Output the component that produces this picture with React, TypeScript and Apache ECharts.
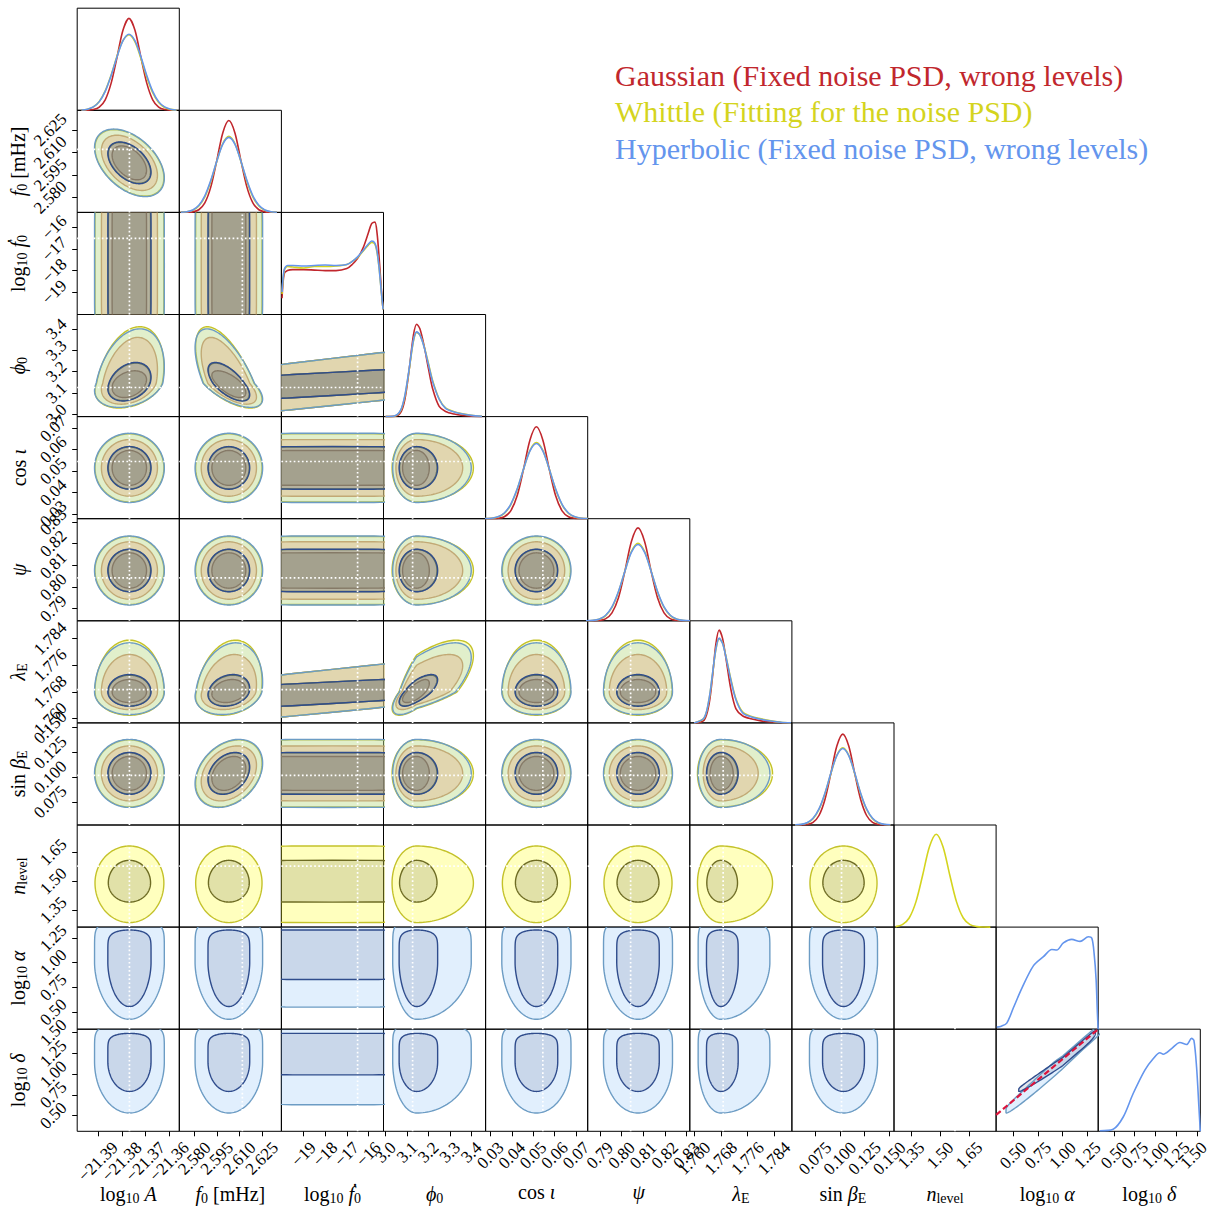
import React, { useEffect, useRef } from "react";
import * as echarts from "echarts";

const SERIF = '"Liberation Serif", "DejaVu Serif", serif';
const TICK_FS = 17;

// ---------- parameter axes ----------
const paramRanges: [number, number][] = [
  [-21.3988, -21.3558],
  [2.57, 2.638],
  [-20.03, -15.3],
  [2.99, 3.467],
  [0.02776, 0.07547],
  [0.78442, 0.83147],
  [1.7587, 1.7893],
  [0.0517, 0.1546],
  [1.2616, 1.7897],
  [0.3269, 1.3603],
  [0.3096, 1.54],
];
const paramTicks: number[][] = [
  [-21.39, -21.38, -21.37, -21.36],
  [2.58, 2.595, 2.61, 2.625],
  [-19, -18, -17, -16],
  [3.0, 3.1, 3.2, 3.3, 3.4],
  [0.03, 0.04, 0.05, 0.06, 0.07],
  [0.79, 0.8, 0.81, 0.82, 0.83],
  [1.76, 1.768, 1.776, 1.784],
  [0.075, 0.1, 0.125, 0.15],
  [1.35, 1.5, 1.65],
  [0.5, 0.75, 1.0, 1.25],
  [0.5, 0.75, 1.0, 1.25, 1.5],
];
const tickDecimals = [2, 3, 0, 1, 2, 2, 3, 3, 2, 2, 2];
const axisNames = [
  "log{sub|10} {it|A}",
  "{it|f}{sub|0} [mHz]",
  "log{sub|10} {it|ḟ}{sub|0}",
  "{it|ϕ}{sub|0}",
  "cos {it|ι}",
  "{it|ψ}",
  "{it|λ}{sub|E}",
  "sin {it|β}{sub|E}",
  "{it|n}{sub|level}",
  "log{sub|10} {it|α}",
  "log{sub|10} {it|δ}",
];
const truths: (number | null)[] = [-21.3768, 2.612, -16.5, 3.126, 0.0545, 0.8042, 1.7687, 0.1017, 1.577, null, null];

// ---------- 1D marginals (height as a fraction of the panel) ----------
const logAGrid = [-21.397, -21.3945, -21.392, -21.3895, -21.387, -21.3845, -21.382, -21.3795, -21.377, -21.3745, -21.372, -21.3695, -21.367, -21.3645, -21.362, -21.3595, -21.357];
const logAGauss = [0, 0.001, 0.007, 0.031, 0.103, 0.266, 0.522, 0.787, 0.9, 0.787, 0.522, 0.266, 0.103, 0.031, 0.007, 0.001, 0];
const logAWhittle = [0.003, 0.011, 0.034, 0.087, 0.19, 0.346, 0.532, 0.684, 0.74, 0.672, 0.51, 0.325, 0.172, 0.076, 0.028, 0.009, 0.002];
const logAHyper = [0.003, 0.011, 0.033, 0.085, 0.186, 0.341, 0.527, 0.683, 0.745, 0.683, 0.527, 0.341, 0.186, 0.085, 0.033, 0.011, 0.003];

const f0Grid = [2.571, 2.575, 2.579, 2.583, 2.587, 2.591, 2.595, 2.599, 2.603, 2.607, 2.611, 2.615, 2.619, 2.623, 2.627, 2.631, 2.635];
const f0Gauss = [0, 0.001, 0.005, 0.026, 0.093, 0.25, 0.509, 0.781, 0.9, 0.781, 0.509, 0.25, 0.093, 0.026, 0.005, 0.001, 0];
const f0Whittle = [0.001, 0.006, 0.021, 0.063, 0.153, 0.306, 0.502, 0.675, 0.745, 0.675, 0.502, 0.306, 0.153, 0.063, 0.021, 0.006, 0.001];
const f0Hyper = [0.002, 0.007, 0.024, 0.069, 0.162, 0.314, 0.503, 0.669, 0.735, 0.669, 0.503, 0.314, 0.162, 0.069, 0.024, 0.007, 0.002];

const fdotGrid = [-20.0, -19.9, -19.75, -19.5, -19.0, -18.5, -18.0, -17.5, -17.0, -16.75, -16.5, -16.25, -16.0, -15.85, -15.7, -15.6, -15.5, -15.4, -15.32];
const fdotGauss = [0.16, 0.4, 0.43, 0.44, 0.44, 0.435, 0.43, 0.43, 0.45, 0.49, 0.55, 0.65, 0.8, 0.89, 0.905, 0.8, 0.55, 0.25, 0.05];
const fdotWhittle = [0.2, 0.43, 0.47, 0.465, 0.455, 0.47, 0.47, 0.475, 0.49, 0.52, 0.56, 0.62, 0.68, 0.705, 0.69, 0.61, 0.45, 0.22, 0.05];
const fdotHyper = [0.22, 0.44, 0.48, 0.48, 0.475, 0.48, 0.485, 0.48, 0.49, 0.52, 0.565, 0.625, 0.69, 0.72, 0.7, 0.62, 0.45, 0.22, 0.05];

const phiGrid = [3.0, 3.04, 3.07, 3.09, 3.11, 3.13, 3.145, 3.16, 3.18, 3.2, 3.22, 3.25, 3.28, 3.32, 3.36, 3.4, 3.45];
const phiGauss = [0, 0.002, 0.04, 0.17, 0.46, 0.8, 0.905, 0.86, 0.69, 0.47, 0.27, 0.1, 0.05, 0.025, 0.012, 0.005, 0];
const phiWhittle = [0, 0.004, 0.058, 0.2, 0.46, 0.74, 0.825, 0.8, 0.685, 0.52, 0.35, 0.175, 0.085, 0.048, 0.027, 0.013, 0.004];
const phiHyper = [0, 0.005, 0.063, 0.21, 0.47, 0.75, 0.83, 0.8, 0.68, 0.51, 0.34, 0.17, 0.08, 0.045, 0.025, 0.012, 0.004];

const cosGrid = [0.0275, 0.0305, 0.0335, 0.0365, 0.0395, 0.0425, 0.0455, 0.0485, 0.0515, 0.0545, 0.0575, 0.0605, 0.0635, 0.0665, 0.0695, 0.0725, 0.0755];
const cosGauss = [0, 0.0005, 0.0035, 0.019, 0.077, 0.224, 0.485, 0.771, 0.9, 0.771, 0.485, 0.224, 0.077, 0.019, 0.0035, 0.0005, 0];
const cosWhittle = [0.001, 0.004, 0.016, 0.052, 0.136, 0.285, 0.486, 0.67, 0.745, 0.67, 0.486, 0.285, 0.136, 0.052, 0.016, 0.004, 0.001];
const cosHyper = [0.001, 0.0047, 0.018, 0.056, 0.141, 0.29, 0.487, 0.664, 0.736, 0.664, 0.487, 0.29, 0.141, 0.056, 0.018, 0.0047, 0.001];

const psiGrid = [0.7836, 0.7866, 0.7896, 0.7926, 0.7956, 0.7986, 0.8016, 0.8046, 0.8076, 0.8106, 0.8136, 0.8166, 0.8196, 0.8226, 0.8256, 0.8286, 0.8316];
const psiGauss = [0, 0.0005, 0.0035, 0.019, 0.078, 0.226, 0.49, 0.78, 0.91, 0.78, 0.49, 0.226, 0.078, 0.019, 0.0035, 0.0005, 0];
const psiWhittle = [0.0007, 0.0035, 0.015, 0.049, 0.131, 0.283, 0.489, 0.681, 0.76, 0.681, 0.489, 0.283, 0.131, 0.049, 0.015, 0.0035, 0.0007];
const psiHyper = [0.001, 0.004, 0.016, 0.052, 0.136, 0.286, 0.488, 0.672, 0.748, 0.672, 0.488, 0.286, 0.136, 0.052, 0.016, 0.004, 0.001];

const lamGrid = [1.76, 1.763, 1.7645, 1.7655, 1.7665, 1.7675, 1.7685, 1.7695, 1.771, 1.7725, 1.7745, 1.777, 1.78, 1.783, 1.786, 1.789];
const lamGauss = [0, 0.027, 0.19, 0.45, 0.77, 0.91, 0.83, 0.64, 0.33, 0.14, 0.07, 0.04, 0.02, 0.01, 0.004, 0];
const lamWhittle = [0, 0.048, 0.235, 0.475, 0.715, 0.825, 0.785, 0.655, 0.43, 0.24, 0.11, 0.065, 0.04, 0.02, 0.007, 0];
const lamHyper = [0, 0.05, 0.24, 0.48, 0.72, 0.83, 0.78, 0.65, 0.42, 0.23, 0.1, 0.06, 0.035, 0.018, 0.006, 0];

const sinbGrid = [0.055, 0.061, 0.067, 0.073, 0.079, 0.085, 0.091, 0.097, 0.103, 0.109, 0.115, 0.121, 0.127, 0.133, 0.139, 0.145, 0.151];
const sinbGauss = [0, 0.0009, 0.0056, 0.026, 0.093, 0.25, 0.506, 0.773, 0.89, 0.773, 0.506, 0.25, 0.093, 0.026, 0.0056, 0.0009, 0];
const sinbWhittle = [0.0013, 0.0056, 0.02, 0.0615, 0.152, 0.307, 0.505, 0.683, 0.755, 0.683, 0.505, 0.307, 0.152, 0.0615, 0.02, 0.0056, 0.0013];
const sinbHyper = [0.0015, 0.0064, 0.0225, 0.066, 0.158, 0.312, 0.509, 0.68, 0.75, 0.68, 0.509, 0.312, 0.158, 0.066, 0.0225, 0.0064, 0.0015];

const nlevGrid = [1.27, 1.305, 1.34, 1.375, 1.41, 1.445, 1.48, 1.515, 1.55, 1.585, 1.62, 1.655, 1.69, 1.725, 1.76];
const nlevWhittle = [0.005, 0.024, 0.089, 0.247, 0.51, 0.787, 0.91, 0.787, 0.51, 0.247, 0.089, 0.024, 0.005, 0.0007, 0];

const alphaGrid = [0.334, 0.38, 0.435, 0.502, 0.587, 0.704, 0.806, 0.891, 0.941, 1.008, 1.093, 1.177, 1.261, 1.296, 1.319, 1.339, 1.352, 1.36];
const alphaHyper = [0.02, 0.03, 0.06, 0.21, 0.4, 0.62, 0.71, 0.78, 0.775, 0.845, 0.88, 0.86, 0.905, 0.89, 0.74, 0.49, 0.16, 0];

const deltaGrid = [0.33, 0.49, 0.611, 0.731, 0.872, 0.972, 1.053, 1.093, 1.194, 1.294, 1.375, 1.435, 1.463, 1.495, 1.523, 1.54];
const deltaHyper = [0.005, 0.02, 0.14, 0.37, 0.6, 0.71, 0.77, 0.755, 0.81, 0.87, 0.85, 0.91, 0.89, 0.63, 0.24, 0];

// ---------- 2D credible regions: [low, high] extent of the 68% and 95% contours ----------
const modes = [-21.3768, 2.603, -17.66, 3.145, 0.0515, 0.8076, 1.768, 0.1037, 1.49, 1.0, 1.15];
const shapeLo = [2, 2, 10, 2, 2, 2, 2, 2, 2, 1.8, 2];
const shapeHi = [2, 2, 10, 2, 2, 2, 2, 2, 2, 8, 8];

type Ext = [number, number] | null;
const gaussInner: Ext[] = [[-21.3841, -21.3696], [2.5917, 2.6143], [-21.2, -14.1], [3.079, 3.204], [0.04335, 0.05965], [0.79945, 0.81575], [1.7648, 1.7717], [0.0866, 0.1208], null, null, null];
const gaussOuter: Ext[] = [[-21.3886, -21.365], [2.5846, 2.6214], [-21.3, -14.0], [3.048, 3.36], [0.03827, 0.06473], [0.79437, 0.82083], [1.7627, 1.7792], [0.076, 0.1314], null, null, null];
const whittleInner: Ext[] = [[-21.3857, -21.3679], [2.5894, 2.6166], [-21.2, -14.1], [3.065, 3.24], [0.0417, 0.0613], [0.79794, 0.81726], [1.7638, 1.773], [0.0829, 0.1245], [1.391, 1.607], null, null];
const whittleOuter: Ext[] = [[-21.3913, -21.3623], [2.5809, 2.6251], [-21.3, -14.0], [3.03, 3.41], [0.0356, 0.0674], [0.79192, 0.82328], [1.761, 1.7835], [0.0699, 0.1375], [1.285, 1.681], null, null];
const hyperInner: Ext[] = [[-21.3859, -21.3677], [2.5891, 2.6169], [-21.2, -14.1], [3.063, 3.243], [0.04153, 0.06147], [0.7978, 0.8174], [1.7637, 1.7732], [0.0826, 0.1248], null, [0.556, 1.331], [0.79, 1.49]];
const hyperOuter: Ext[] = [[-21.3915, -21.3621], [2.5805, 2.6255], [-21.3, -14.0], [3.033, 3.4], [0.03533, 0.06767], [0.7917, 0.8235], [1.7612, 1.7827], [0.0694, 0.138], null, [0.427, 1.45], [0.53, 1.62]];

// row-parameter extents against log10 fdot: [row, innerLo, innerHi, outerLo, outerHi]
const fdotRowExtents: [number, number, number, number, number][] = [
  [3, 3.085, 3.2, 3.035, 3.27],
  [6, 1.7643, 1.7712, 1.7615, 1.7752],
  [9, 0.83, 1.331, 0.55, 1.45],
  [10, 0.99, 1.49, 0.63, 1.62],
];

// correlation of (row parameter, column parameter)
const pairRho: [number, number, number][] = [
  [1, 0, -0.45],
  [3, 0, 0.3],
  [3, 1, -0.65],
  [3, 2, 0.35],
  [6, 1, 0.2],
  [6, 2, 0.35],
  [6, 3, 0.7],
  [7, 1, 0.3],
  [10, 9, 0.99],
];

// log10 delta against log10 alpha reference relation
const refLineAlpha = [0.3269, 1.3603];
const refLineDelta = [0.507, 1.54];

// ---------- styles ----------
const GAUSS = "#c1272d";
const WHITTLE = "#d4d41e";
const HYPER = "#6495ed";

const runs = [
  {
    name: "Gaussian (Fixed noise PSD, wrong levels)",
    color: GAUSS,
    inner: gaussInner,
    outer: gaussOuter,
    outerFill: "rgba(255,125,105,0.35)",
    innerFill: "rgba(110,60,60,0.3)",
    outerEdge: "#c47d5e",
    innerEdge: "#7d3a36",
  },
  {
    name: "Whittle (Fitting for the noise PSD)",
    color: WHITTLE,
    inner: whittleInner,
    outer: whittleOuter,
    outerFill: "rgba(255,255,40,0.3)",
    innerFill: "rgba(90,90,70,0.18)",
    outerEdge: "#c4c22a",
    innerEdge: "#6e6c24",
  },
  {
    name: "Hyperbolic (Fixed noise PSD, wrong levels)",
    color: HYPER,
    inner: hyperInner,
    outer: hyperOuter,
    outerFill: "rgba(130,190,245,0.24)",
    innerFill: "rgba(70,80,130,0.15)",
    outerEdge: "#6c9cc4",
    innerEdge: "#2f4c8c",
  },
];

const diagCurves = [
  { x: logAGrid, y: [logAGauss, logAWhittle, logAHyper] },
  { x: f0Grid, y: [f0Gauss, f0Whittle, f0Hyper] },
  { x: fdotGrid, y: [fdotGauss, fdotWhittle, fdotHyper] },
  { x: phiGrid, y: [phiGauss, phiWhittle, phiHyper] },
  { x: cosGrid, y: [cosGauss, cosWhittle, cosHyper] },
  { x: psiGrid, y: [psiGauss, psiWhittle, psiHyper] },
  { x: lamGrid, y: [lamGauss, lamWhittle, lamHyper] },
  { x: sinbGrid, y: [sinbGauss, sinbWhittle, sinbHyper] },
  { x: nlevGrid, y: [null, nlevWhittle, null] },
  { x: alphaGrid, y: [null, null, alphaHyper] },
  { x: deltaGrid, y: [null, null, deltaHyper] },
];

// ---------- layout ----------
const NP = 11;
const X0 = 77.2;
const Y0 = 8.2;
const PANEL = 102.1;
const TICK_PAD = 8.5;
const PAGE_W = 1212;

function gridIndexOf(r: number, c: number) {
  return (r * (r + 1)) / 2 + c;
}

function rhoFor(r: number, c: number) {
  const hit = pairRho.find((p) => p[0] === r && p[1] === c);
  return hit ? hit[2] : 0;
}

// closed outline of a credible region in data units
function regionOutline(px: number, py: number, ex: [number, number], ey: [number, number], rho: number) {
  const pts: number[][] = [];
  const k = Math.sqrt(1 - rho * rho);
  const cx = modes[px];
  const cy = modes[py];
  const n = 160;
  for (let i = 0; i < n; i++) {
    const t = (i / n) * 2 * Math.PI;
    const c = Math.cos(t);
    const s = Math.sin(t);
    const exX = c < 0 ? shapeLo[px] : shapeHi[px];
    const exY = s < 0 ? shapeLo[py] : shapeHi[py];
    const ux = Math.sign(c) * Math.pow(Math.abs(c), 2 / exX);
    const uy = Math.sign(s) * Math.pow(Math.abs(s), 2 / exY);
    const u = ux;
    const v = rho * ux + k * uy;
    const x = u < 0 ? cx + u * (cx - ex[0]) : cx + u * (ex[1] - cx);
    const y = v < 0 ? cy + v * (cy - ey[0]) : cy + v * (ey[1] - cy);
    pts.push([x, y]);
  }
  return pts;
}

function tickText(p: number, v: number) {
  return Number(v).toFixed(tickDecimals[p]).replace("-", "\u2212");
}

const nameStyle = {
  fontSize: 20,
  fontFamily: SERIF,
  color: "#000",
  rich: {
    it: { fontSize: 20, fontFamily: SERIF, fontStyle: "italic", color: "#000" },
    sub: { fontSize: 14, fontFamily: SERIF, color: "#000", padding: [9, 0, 0, 0] },
  },
};

function paramAxis(p: number, gi: number, labeled: boolean, isX: boolean) {
  return {
    type: "value",
    gridIndex: gi,
    min: paramRanges[p][0],
    max: paramRanges[p][1],
    axisLine: { show: false },
    splitLine: { show: false },
    axisTick: {
      show: labeled,
      customValues: paramTicks[p],
      length: 5,
      lineStyle: { color: "#000", width: 1 },
    },
    axisLabel: { show: false },
    name: labeled ? axisNames[p] : "",
    nameLocation: "middle",
    nameGap: isX ? 51 : 48,
    nameMoveOverlap: false,
    nameTextStyle: nameStyle,
  };
}

function legendGraphics() {
  const legendTops = [60, 96, 133];
  return runs.map((run, i) => ({
    type: "text",
    left: 615,
    top: legendTops[i],
    silent: true,
    style: {
      text: run.name,
      fontSize: 30,
      fontFamily: SERIF,
      fill: run.color,
    },
  }));
}

function buildOption() {
  const grid: any[] = [];
  const xAxis: any[] = [];
  const yAxis: any[] = [];
  const series: any[] = [];
  let gi = 0;

  for (let r = 0; r < NP; r++) {
    for (let c = 0; c <= r; c++) {
      grid.push({
        left: X0 + c * PANEL,
        top: Y0 + r * PANEL,
        width: PANEL,
        height: PANEL,
        show: true,
        borderColor: "#000",
        borderWidth: 1,
        backgroundColor: "transparent",
      });
      xAxis.push(paramAxis(c, gi, r === NP - 1, true));
      if (r === c) {
        yAxis.push({
          type: "value",
          gridIndex: gi,
          min: 0,
          max: 1,
          show: false,
          splitLine: { show: false },
        });
        const d = diagCurves[r];
        runs.forEach((run, ri) => {
          const ys = d.y[ri];
          if (!ys) return;
          series.push({
            type: "line",
            xAxisIndex: gi,
            yAxisIndex: gi,
            data: d.x.map((x, i) => [x, ys[i]]),
            smooth: 0.3,
            symbol: "none",
            silent: true,
            clip: true,
            lineStyle: { color: run.color, width: 1.6 },
            z: 3,
          });
        });
      } else {
        yAxis.push(paramAxis(r, gi, c === 0, false));
        const rho = rhoFor(r, c);
        const fdotRow = c === 2 ? fdotRowExtents.find((e) => e[0] === r) : undefined;
        runs.forEach((run) => {
          const oX = run.outer[c];
          let oY = run.outer[r];
          const iX = run.inner[c];
          let iY = run.inner[r];
          if (!oX || !oY || !iX || !iY) return;
          if (fdotRow) {
            iY = [fdotRow[1], fdotRow[2]];
            oY = [fdotRow[3], fdotRow[4]];
          }
          const outerPts = regionOutline(c, r, oX, oY, rho);
          const innerPts = regionOutline(c, r, iX, iY, rho);
          series.push({
            type: "custom",
            xAxisIndex: gi,
            yAxisIndex: gi,
            clip: true,
            silent: true,
            z: 2,
            data: [[modes[c], modes[r]]],
            renderItem: (_params: any, api: any) => {
              const op = outerPts.map((p) => api.coord(p));
              const ip = innerPts.map((p) => api.coord(p));
              return {
                type: "group",
                children: [
                  { type: "polygon", shape: { points: op }, style: { fill: run.outerFill, stroke: null } },
                  { type: "polygon", shape: { points: ip }, style: { fill: run.innerFill, stroke: null } },
                  { type: "polygon", shape: { points: op }, style: { fill: "none", stroke: run.outerEdge, lineWidth: 1.4 } },
                  { type: "polygon", shape: { points: ip }, style: { fill: "none", stroke: run.innerEdge, lineWidth: 1.4 } },
                ],
              };
            },
          });
        });
        // injected truth values
        const tx = truths[c];
        const ty = truths[r];
        const dotted = { color: "#ffffff", width: 1.7, type: [1.7, 2.4] };
        if (tx !== null) {
          series.push({
            type: "line",
            xAxisIndex: gi,
            yAxisIndex: gi,
            data: [[tx, paramRanges[r][0]], [tx, paramRanges[r][1]]],
            symbol: "none",
            silent: true,
            lineStyle: dotted,
            z: 5,
          });
        }
        if (ty !== null) {
          series.push({
            type: "line",
            xAxisIndex: gi,
            yAxisIndex: gi,
            data: [[paramRanges[c][0], ty], [paramRanges[c][1], ty]],
            symbol: "none",
            silent: true,
            lineStyle: dotted,
            z: 5,
          });
        }
        if (r === 10 && c === 9) {
          series.push({
            type: "line",
            xAxisIndex: gi,
            yAxisIndex: gi,
            data: refLineAlpha.map((a, i) => [a, refLineDelta[i]]),
            symbol: "none",
            silent: true,
            clip: true,
            lineStyle: { color: "#dc143c", width: 2.2, type: [6, 3] },
            z: 6,
          });
        }
      }
      gi++;
    }
  }

  return {
    animation: false,
    backgroundColor: "#ffffff",
    grid,
    xAxis,
    yAxis,
    series,
    graphic: legendGraphics(),
  };
}

// rotated tick labels, centred on their ticks, placed through the axis scales
function tickLabelGraphics(chart: any) {
  const ctx = document.createElement("canvas").getContext("2d")!;
  ctx.font = `${TICK_FS}px ${SERIF}`;
  const h = TICK_FS * 0.82;
  const out: any[] = [];
  const bottom = Y0 + NP * PANEL;
  const left = X0;
  const mk = (text: string, x: number, y: number) => ({
    type: "text",
    x,
    y,
    rotation: Math.PI / 4,
    silent: true,
    style: {
      text,
      x: 0,
      y: 0,
      align: "center",
      verticalAlign: "middle",
      fontSize: TICK_FS,
      fontFamily: SERIF,
      fill: "#000",
    },
  });
  for (let c = 0; c < NP; c++) {
    const gi = gridIndexOf(NP - 1, c);
    paramTicks[c].forEach((v) => {
      const text = tickText(c, v);
      const side = (ctx.measureText(text).width + h) / Math.SQRT2;
      const px = chart.convertToPixel({ xAxisIndex: gi }, v);
      // keep the last label inside the page
      const cx = Math.min(px, PAGE_W - 3 - side / 2);
      out.push(mk(text, cx, bottom + TICK_PAD + side / 2));
    });
  }
  for (let r = 1; r < NP; r++) {
    const gi = gridIndexOf(r, 0);
    paramTicks[r].forEach((v) => {
      const text = tickText(r, v);
      const side = (ctx.measureText(text).width + h) / Math.SQRT2;
      const py = chart.convertToPixel({ yAxisIndex: gi }, v);
      out.push(mk(text, left - TICK_PAD - side / 2, py));
    });
  }
  return out;
}

export default function App() {
  const ref = useRef<HTMLDivElement>(null);
  useEffect(() => {
    document.body.style.margin = "0";
    const chart = echarts.init(ref.current!, null, { renderer: "svg" });
    chart.setOption(buildOption() as any);
    chart.setOption({ graphic: [...legendGraphics(), ...tickLabelGraphics(chart)] } as any);
    return () => chart.dispose();
  }, []);
  return <div ref={ref} style={{ width: PAGE_W, height: 1209 }} />;
}
